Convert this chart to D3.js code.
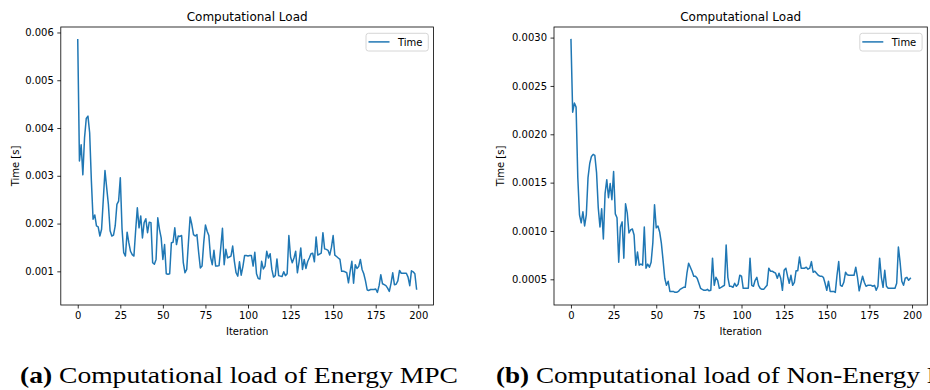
<!DOCTYPE html>
<html><head><meta charset="utf-8">
<script src="https://cdn.jsdelivr.net/npm/d3@7"></script>
<style>body{margin:0;background:#fff} svg{display:block;font-family:"DejaVu Sans",sans-serif}</style>
</head><body><svg id="c" width="930" height="390"></svg>
<script>
// Solve time per iteration (milliseconds), Energy MPC
const energyMs = [
5.85,3.31,3.65,3.02,3.8,4.2,4.25,3.9,2.9,2.09,2.18,1.95,1.93,1.74,1.88,2.5,3.11,2.75,2.4,1.85,
1.74,1.76,1.95,2.4,2.47,2.96,1.9,1.39,1.32,1.82,1.6,1.42,1.35,1.32,1.85,2.33,1.91,2.16,1.7,2.02,
2.1,1.81,2.03,2.02,1.18,1.15,1.25,2.12,1.88,1.7,1.25,1.56,0.95,0.94,0.95,1.6,1.61,1.91,1.56,1.74,
1.73,1.75,1.18,0.97,1.04,1.6,2.14,1.98,1.77,1.74,1.77,1.4,1.07,1.11,1.6,1.97,1.84,1.75,1.3,1.14,
1.44,1.11,1.11,1.12,1.5,1.9,1.14,1.46,1.28,1.3,1.32,1.53,1.21,0.97,0.9,1.2,0.92,1.1,1.33,1.33,
1.32,1.33,1.33,1.11,1.4,0.95,0.85,0.84,1.21,1.05,1.11,1.42,1.28,1.37,1.04,0.88,0.91,1.26,0.91,0.9,
0.89,0.99,0.91,0.95,1.75,1.3,1.18,1.28,1.42,0.97,1.2,1.49,1.04,1.25,1.06,1.2,1.28,1.37,1.38,1.2,
1.72,1.34,1.36,1.38,1.81,1.47,1.46,1.44,1.34,1.5,1.75,1.34,1.31,1.28,1.25,1.0,1.0,0.99,0.97,0.76,
1.0,1.21,0.75,1.14,1.06,1.1,1.25,1.04,0.95,0.8,0.61,0.6,0.62,0.62,0.62,0.63,0.56,0.7,0.93,0.74,
0.72,0.7,0.65,0.58,0.75,0.97,0.72,0.73,0.8,1.02,0.96,0.96,0.96,0.96,0.88,0.7,1.01,0.99,0.95,0.63
];
// Solve time per iteration (units of 0.1 ms), Non-Energy MPC
const nonEnergyTenthMs = [
29.79,22.29,23.23,22.81,15.52,11.67,10.84,11.98,10.52,11.67,15.52,16.98,17.71,17.92,17.81,16.04,12.40,10.42,12.29,9.17,
13.86,15.31,13.44,14.90,13.23,16.15,11.77,11.36,6.77,10.42,10.94,7.19,12.81,11.88,9.79,10.11,10.21,9.59,6.46,7.82,
6.46,6.57,6.46,10.42,6.15,6.57,6.25,6.77,8.75,12.71,10.32,10.52,9.90,8.75,6.98,5.11,4.38,4.80,3.75,3.75,
3.75,3.65,3.65,3.75,3.96,4.07,4.17,4.17,5.63,6.67,6.25,5.84,5.32,5.32,5.11,4.59,4.07,3.96,3.86,3.86,
3.96,3.81,3.86,7.19,4.38,5.21,4.90,4.07,4.17,4.28,4.38,8.55,5.21,4.28,4.28,4.17,4.59,4.28,4.48,5.42,
5.32,4.07,4.07,4.07,4.07,7.19,4.38,4.28,4.90,5.21,4.38,4.07,3.96,3.96,4.17,4.38,6.15,5.84,5.84,5.73,
5.63,5.11,5.63,5.11,3.86,5.94,6.15,5.32,4.59,5.42,4.38,4.69,5.89,5.89,7.30,6.15,6.15,6.15,6.25,6.05,
6.15,6.83,5.73,5.84,5.63,5.42,5.32,5.32,5.21,4.59,3.86,4.80,3.75,3.75,3.75,3.65,5.42,6.83,4.38,4.28,
4.69,5.73,5.47,5.42,5.42,5.42,5.42,6.25,5.21,3.81,4.59,5.32,4.69,4.28,4.38,4.38,4.38,4.28,4.38,3.86,
4.28,7.19,5.21,4.17,5.94,4.28,4.07,4.07,4.07,4.07,4.07,4.59,8.34,6.77,4.80,4.38,5.11,5.21,4.90,5.11
];
const xTicks = [0, 25, 50, 75, 100, 125, 150, 175, 200];
const yTicksA = [0.001, 0.002, 0.003, 0.004, 0.005, 0.006];
const yTicksB = [0.0005, 0.0010, 0.0015, 0.0020, 0.0025, 0.0030];
const titleText = "Computational Load";
const xLabel = "Iteration";
const yLabel = "Time [s]";
const legendLabel = "Time";
const captionA = ["(a)", " Computational load of Energy MPC"];
const captionB = ["(b)", " Computational load of Non-Energy MPC"];

const svg = d3.select("#c");
svg.append("rect").attr("width",930).attr("height",390).attr("fill","#fff");

const panels = [
  {vals: energyMs.map(v => v/1000), ticks: yTicksA, fmt: d3.format(".3f"), x0: 60.8, x1: 433.5, ylx: 15},
  {vals: nonEnergyTenthMs.map(v => v/10000), ticks: yTicksB, fmt: d3.format(".4f"), x0: 554, x1: 927.3, ylx: 500}
];
const plotTop = 27, plotBottom = 305;

panels.forEach(p => {
  const n = p.vals.length;
  const xm = (n - 1) * 0.05;
  const x = d3.scaleLinear().domain([-xm, n - 1 + xm]).range([p.x0, p.x1]);
  const [mn, mx] = d3.extent(p.vals);
  const ym = (mx - mn) * 0.05;
  const y = d3.scaleLinear().domain([mn - ym, mx + ym]).range([plotBottom, plotTop]);
  const g = svg.append("g");

  const line = d3.line().x((d,i) => x(i)).y(d => y(d));
  g.append("path").datum(p.vals).attr("d", line)
    .attr("fill","none").attr("stroke","#1f77b4").attr("stroke-width",1.5)
    .attr("stroke-linejoin","round").attr("stroke-linecap","square");

  const xa = g.append("g").attr("transform",`translate(0,${plotBottom})`)
    .call(d3.axisBottom(x).tickValues(xTicks).tickSize(3.5).tickPadding(3.5).tickSizeOuter(0));
  const ya = g.append("g").attr("transform",`translate(${p.x0},0)`)
    .call(d3.axisLeft(y).tickValues(p.ticks).tickFormat(p.fmt).tickSize(3.5).tickPadding(3.5).tickSizeOuter(0));
  [xa, ya].forEach(a => {
    a.select(".domain").remove();
    a.selectAll("line").attr("stroke","#000").attr("stroke-width",0.8);
    a.selectAll("text").attr("font-family","DejaVu Sans").attr("font-size",10).attr("fill","#000");
  });

  g.append("rect").attr("x",p.x0).attr("y",plotTop).attr("width",p.x1-p.x0).attr("height",plotBottom-plotTop)
    .attr("fill","none").attr("stroke","#000").attr("stroke-width",0.8);

  g.append("text").attr("x",(p.x0+p.x1)/2).attr("y",21).attr("text-anchor","middle")
    .attr("font-size",12).text(titleText);
  g.append("text").attr("x",(p.x0+p.x1)/2).attr("y",335).attr("text-anchor","middle")
    .attr("font-size",10).text(xLabel);
  g.append("text").attr("transform",`translate(${p.ylx},${(plotTop+plotBottom)/2}) rotate(-90)`)
    .attr("text-anchor","middle").attr("dy","0.35em").attr("font-size",10).text(yLabel);

  const lg = g.append("g").attr("transform",`translate(${p.x1-67.5},33.3)`);
  lg.append("rect").attr("width",62.3).attr("height",17.7).attr("rx",2.5)
    .attr("fill","#fff").attr("fill-opacity",0.8).attr("stroke","#ccc").attr("stroke-width",0.8);
  lg.append("line").attr("x1",2.5).attr("x2",23.5).attr("y1",8.6).attr("y2",8.6)
    .attr("stroke","#1f77b4").attr("stroke-width",1.5);
  lg.append("text").attr("x",32).attr("y",12.3).attr("font-size",10).text(legendLabel);
});

function caption(parts, x, len) {
  const t = svg.append("text").attr("x",x).attr("y",383)
    .attr("font-family","Liberation Serif, serif").attr("font-size",24).attr("fill","#000");
  t.append("tspan").attr("font-weight","bold").text(parts[0]);
  t.append("tspan").text(parts[1]);
  if (len) t.attr("textLength",len).attr("lengthAdjust","spacingAndGlyphs");
}
caption(captionA, 20, 438);
caption(captionB, 496, 488);
</script></body></html>
